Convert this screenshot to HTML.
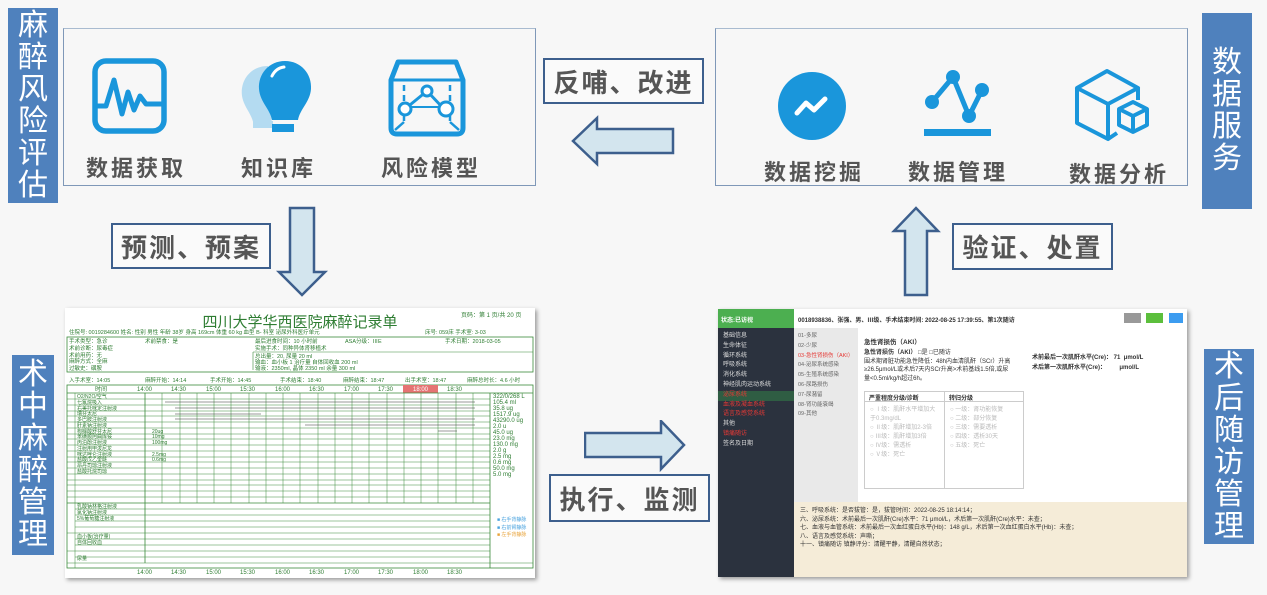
<!DOCTYPE html>
<html><head><meta charset="utf-8"><style>
*{margin:0;padding:0;box-sizing:border-box}
body{width:1267px;height:595px;background:#f7f7f7;position:relative;overflow:hidden;font-family:"Liberation Sans","Noto Sans CJK SC",sans-serif}
.abs{position:absolute}
.vlab{position:absolute;background:#4f81bd;color:#fff;font-size:30px;line-height:32px;text-align:center;display:flex;flex-direction:column;justify-content:center;align-items:center}
.box{position:absolute;border:1px solid #7f98b8;border-top-color:#a9bbd0}
.lbl{position:absolute;border:2.5px solid #3d5f8d;background:#fafafa;color:#555;font-weight:bold;font-size:26px;display:flex;align-items:center;justify-content:center;letter-spacing:2px}
.cap{position:absolute;color:#555;font-weight:bold;font-size:22px;letter-spacing:3px;white-space:nowrap}
</style></head><body>

<div class="vlab" style="left:8px;top:8px;width:50px;height:195px">麻<br>醉<br>风<br>险<br>评<br>估</div>
<div class="vlab" style="left:1202px;top:13px;width:50px;height:196px">数<br>据<br>服<br>务</div>
<div class="vlab" style="left:12px;top:355px;width:42px;height:200px">术<br>中<br>麻<br>醉<br>管<br>理</div>
<div class="vlab" style="left:1204px;top:349px;width:50px;height:195px">术<br>后<br>随<br>访<br>管<br>理</div>

<div class="box" style="left:63px;top:28px;width:473px;height:158px"></div>
<div class="box" style="left:715px;top:28px;width:473px;height:158px"></div>

<div class="cap" style="left:86px;top:151px">数据获取</div>
<div class="cap" style="left:241px;top:151px">知识库</div>
<div class="cap" style="left:381px;top:151px">风险模型</div>
<div class="cap" style="left:764px;top:155px">数据挖掘</div>
<div class="cap" style="left:908px;top:155px">数据管理</div>
<div class="cap" style="left:1069px;top:157px">数据分析</div>

<div class="lbl" style="left:543px;top:58px;width:161px;height:46px">反哺、改进</div>
<div class="lbl" style="left:111px;top:223px;width:160px;height:46px">预测、预案</div>
<div class="lbl" style="left:952px;top:223px;width:161px;height:47px">验证、处置</div>
<div class="lbl" style="left:549px;top:474px;width:161px;height:48px">执行、监测</div>

<svg class="abs" style="left:0;top:0" width="1267" height="300">
 <g fill="#d3e5ee" stroke="#3d5f8d" stroke-width="2.5" stroke-linejoin="miter">
  <polygon points="673,129 597,129 597,118 573,141 597,164 597,153 673,153"/>
  <polygon points="290,208 314,208 314,272 325,272 302,295 279,272 290,272"/>
  <polygon points="905,295 927,295 927,231 938,231 916,208 894,231 905,231"/>
 </g>
 <rect x="95" y="61" width="69" height="70" rx="11" fill="none" stroke="#1a96db" stroke-width="5.5"/>
 <polyline points="97,106 106,106 114,80 122,114 128,92 134,110 140,96 146,104 162,104" fill="none" stroke="#1a96db" stroke-width="5" stroke-linejoin="round"/>
 <path d="M268,66 c-18,0 -28,15 -26,30 c2,12 10,17 12,30 l18,0 z" fill="#b4dbf1"/>
 <rect x="253" y="121" width="20" height="7" fill="#b4dbf1"/>
 <path d="M285,61 c-16,0 -27,13 -26,28 c1,13 11,20 13,31 l26,0 c2,-11 12,-18 13,-31 c1,-15 -10,-28 -26,-28 z" fill="#1a96db"/>
 <rect x="272" y="124" width="22" height="8" fill="#1a96db"/>
 <path d="M272,76 q4,-8 12,-9" stroke="#fff" stroke-width="3" fill="none" stroke-linecap="round"/>
 <path d="M398,62 L456,62 L463,80 L463,128 q0,6 -6,6 L397,134 q-6,0 -6,-6 L391,80 z" fill="none" stroke="#1a96db" stroke-width="5" stroke-linejoin="round"/>
 <line x1="391" y1="80" x2="463" y2="80" stroke="#1a96db" stroke-width="3"/>
 <line x1="404" y1="85" x2="404" y2="122" stroke="#1a96db" stroke-width="2.5" stroke-dasharray="6,4"/>
 <line x1="450" y1="85" x2="450" y2="122" stroke="#1a96db" stroke-width="2.5" stroke-dasharray="6,4"/>
 <line x1="395" y1="130" x2="404" y2="122" stroke="#1a96db" stroke-width="2.5"/>
 <line x1="459" y1="130" x2="450" y2="122" stroke="#1a96db" stroke-width="2.5"/>
 <polyline points="405,109 427,91 444,109" fill="none" stroke="#1a96db" stroke-width="3"/>
 <line x1="410" y1="107" x2="440" y2="107" stroke="#1a96db" stroke-width="2"/>
 <circle cx="427" cy="91" r="5" fill="#fff" stroke="#1a96db" stroke-width="3"/>
 <circle cx="405" cy="109" r="6" fill="#fff" stroke="#1a96db" stroke-width="3"/>
 <circle cx="446" cy="109" r="7" fill="#fff" stroke="#1a96db" stroke-width="3"/>
 <circle cx="812" cy="106" r="34" fill="#1a96db"/>
 <polyline points="797,113 806,103 814,110 825,99" fill="none" stroke="#fff" stroke-width="5" stroke-linecap="round" stroke-linejoin="round"/>
 <polyline points="932,102 953,77 969,116 982,90" fill="none" stroke="#1a96db" stroke-width="5"/>
 <circle cx="932" cy="102" r="7" fill="#1a96db"/><circle cx="953" cy="77" r="7" fill="#1a96db"/>
 <circle cx="969" cy="116" r="7" fill="#1a96db"/><circle cx="982" cy="90" r="7" fill="#1a96db"/>
 <rect x="924" y="129" width="67" height="7" fill="#1a96db"/>
 <g fill="none" stroke="#1a96db" stroke-width="4" stroke-linejoin="round">
  <path d="M1107,71 L1138,88 L1108,104 L1077,88 z"/>
  <path d="M1077,88 L1077,123 L1108,139 L1108,104"/>
  <path d="M1138,88 L1138,100"/>
  <path d="M1108,139 L1117,133"/>
  <path d="M1133,102 L1147,109 L1147,125 L1133,132 L1119,125 L1119,109 z"/>
  <path d="M1119,109 L1133,116 L1147,109 M1133,116 L1133,132"/>
 </g>
</svg>
<svg class="abs" style="left:584px;top:420px" width="102" height="52">
 <polygon points="1,13 77,13 77,1 100,25 77,49 77,37 1,37" fill="#d3e5ee" stroke="#3d5f8d" stroke-width="2.5"/>
</svg>

<div class="abs" style="left:65px;top:308px;width:470px;height:270px;background:#fff;box-shadow:2px 2px 4px #999">
<svg width="470" height="270" style="display:block">
 <g font-family="Liberation Sans,Noto Sans CJK SC,sans-serif">
 <text x="235" y="19" font-size="15" fill="#2e7d32" text-anchor="middle">四川大学华西医院麻醉记录单</text>
 <text x="396" y="9" font-size="6" fill="#2e7d32">页码：第 1 页/共 20 页</text>
 <text x="4" y="26" font-size="5.5" fill="#2e7d32">住院号: 0019284600 姓名: 性别 男性 年龄 38岁 身高 169cm 体重 60 kg 血型 B- 科室 泌尿外科医疗单元</text>
 <text x="360" y="26" font-size="5.5" fill="#2e7d32">床号: 059床 手术室: 3-03</text>
 <rect x="2" y="29" width="466" height="35" fill="none" stroke="#3a8a3a" stroke-width="0.8"/>
 <line x1="188" y1="44" x2="468" y2="44" stroke="#3a8a3a" stroke-width="0.6"/>
 <line x1="188" y1="44" x2="188" y2="62" stroke="#3a8a3a" stroke-width="0.6"/>
 <g font-size="5.5" fill="#2e7d32">
 <text x="4" y="35">手术类型：急诊</text><text x="80" y="35">术前禁食：是</text><text x="190" y="35">最后进食时间：10 小时前</text><text x="280" y="35">ASA分级：ⅢE</text><text x="380" y="35">手术日期：2018-03-05</text>
 <text x="4" y="42">术前诊断：尿毒症</text><text x="190" y="42">实施手术：同种异体肾移植术</text>
 <text x="4" y="49">术前用药：无</text><text x="190" y="50">总出量：20, 尿量 20 ml</text>
 <text x="4" y="55">麻醉方式：全麻</text><text x="190" y="56">输血：血小板 1 治疗量 自体回收血 200 ml</text>
 <text x="4" y="62">过敏史：磺胺</text><text x="190" y="62">输液：2350ml, 晶体 2350 ml 余量 300 ml</text>
 <text x="4" y="74">入手术室：14:05</text><text x="80" y="74">麻醉开始：14:14</text><text x="145" y="74">手术开始：14:45</text><text x="215" y="74">手术结束：18:40</text><text x="278" y="74">麻醉结束：18:47</text><text x="340" y="74">出手术室：18:47</text><text x="402" y="74">麻醉总时长：4.6 小时</text>
 </g>
 <rect x="2" y="77" width="466" height="183" fill="none" stroke="#3a8a3a" stroke-width="0.8"/>
 <rect x="338" y="77" width="35" height="8" fill="#e57373"/>
 <g font-size="6" fill="#2e7d32"><text x="30" y="83">时间</text><text x="72" y="83">14:00</text><text x="106" y="83">14:30</text><text x="141" y="83">15:00</text><text x="175" y="83">15:30</text><text x="210" y="83">16:00</text><text x="244" y="83">16:30</text><text x="279" y="83">17:00</text><text x="313" y="83">17:30</text><text x="348" y="83" fill="#fff">18:00</text><text x="382" y="83">18:30</text></g>
 <line x1="2" y1="85" x2="468" y2="85" stroke="#3a8a3a" stroke-width="0.8"/>
 <g stroke="#3a8a3a" stroke-width="0.5">
  <line x1="2" y1="91" x2="425" y2="91"/><line x1="2" y1="97" x2="425" y2="97"/><line x1="2" y1="103" x2="425" y2="103"/><line x1="2" y1="108" x2="425" y2="108"/><line x1="2" y1="114" x2="425" y2="114"/><line x1="2" y1="120" x2="425" y2="120"/><line x1="2" y1="126" x2="425" y2="126"/><line x1="2" y1="131" x2="425" y2="131"/><line x1="2" y1="137" x2="425" y2="137"/><line x1="2" y1="143" x2="425" y2="143"/><line x1="2" y1="149" x2="425" y2="149"/><line x1="2" y1="154" x2="425" y2="154"/><line x1="2" y1="160" x2="425" y2="160"/><line x1="2" y1="166" x2="425" y2="166"/><line x1="2" y1="172" x2="425" y2="172"/><line x1="2" y1="177" x2="425" y2="177"/><line x1="2" y1="183" x2="425" y2="183"/><line x1="2" y1="189" x2="425" y2="189"/>
  <line x1="2" y1="195" x2="425" y2="195" stroke-width="0.8"/>
  <line x1="10" y1="201" x2="425" y2="201"/><line x1="10" y1="207" x2="425" y2="207"/><line x1="10" y1="213" x2="425" y2="213"/><line x1="10" y1="219" x2="425" y2="219"/><line x1="2" y1="225" x2="425" y2="225"/><line x1="10" y1="231" x2="425" y2="231"/><line x1="10" y1="237" x2="425" y2="237"/><line x1="2" y1="243" x2="425" y2="243"/><line x1="10" y1="249" x2="425" y2="249"/><line x1="2" y1="255" x2="468" y2="255"/>
 </g>
 <g stroke="#3a8a3a" stroke-width="0.5">
  <line x1="80" y1="85" x2="80" y2="255" stroke-width="0.8"/><line x1="425" y1="85" x2="425" y2="260" stroke-width="0.8"/><line x1="10" y1="85" x2="10" y2="260"/>
  <line x1="97" y1="85" x2="97" y2="195"/><line x1="115" y1="85" x2="115" y2="195"/><line x1="132" y1="85" x2="132" y2="195"/><line x1="149" y1="85" x2="149" y2="195"/><line x1="166" y1="85" x2="166" y2="195"/><line x1="184" y1="85" x2="184" y2="195"/><line x1="201" y1="85" x2="201" y2="195"/><line x1="218" y1="85" x2="218" y2="195"/><line x1="235" y1="85" x2="235" y2="195"/><line x1="253" y1="85" x2="253" y2="195"/><line x1="270" y1="85" x2="270" y2="195"/><line x1="287" y1="85" x2="287" y2="195"/><line x1="304" y1="85" x2="304" y2="195"/><line x1="322" y1="85" x2="322" y2="195"/><line x1="339" y1="85" x2="339" y2="195"/><line x1="356" y1="85" x2="356" y2="195"/><line x1="373" y1="85" x2="373" y2="195"/><line x1="391" y1="85" x2="391" y2="195"/><line x1="408" y1="85" x2="408" y2="195"/>
 </g>
 <g stroke="#333" stroke-width="0.5"><line x1="100" y1="94" x2="410" y2="94"/><line x1="110" y1="100" x2="410" y2="100"/><line x1="110" y1="106" x2="196" y2="106"/><line x1="110" y1="111" x2="410" y2="111"/><line x1="240" y1="117" x2="410" y2="117"/><line x1="373" y1="123" x2="392" y2="123"/></g>
 <g font-size="5" fill="#2e7d32">
  <text x="12" y="90">O2/N2O/空气</text><text x="12" y="96">七氟烷吸入</text><text x="12" y="102">右美托咪定注射液</text><text x="12" y="107">瑞芬太尼</text><text x="12" y="113">多巴胺注射液</text><text x="12" y="119">肝素钠注射液</text><text x="12" y="125">枸橼酸舒芬太尼</text><text x="12" y="130">苯磺顺阿曲库铵</text><text x="12" y="136">丙泊酚注射液</text><text x="12" y="142">注射用甲泼尼龙</text><text x="12" y="148">咪达唑仑注射液</text><text x="12" y="153">盐酸戊乙奎醚</text><text x="12" y="159">昂丹司琼注射液</text><text x="12" y="165">盐酸托烷司琼</text>
  <text x="12" y="200">乳酸钠林格注射液</text><text x="12" y="206">氯化钠注射液</text><text x="12" y="212">5%葡萄糖注射液</text><text x="12" y="230">血小板(治疗量)</text><text x="12" y="236">自体回收血</text><text x="12" y="252">尿量</text>
  <text x="87" y="125">20ug</text><text x="87" y="130">10mg</text><text x="87" y="136">100mg</text><text x="87" y="148">2.5mg</text><text x="87" y="153">0.6mg</text>
  <text x="428" y="90" font-size="6">322/0/268 L</text><text x="428" y="96" font-size="6">105.4 ml</text><text x="428" y="102" font-size="6">35.8 ug</text><text x="428" y="108" font-size="6">1517.9 ug</text><text x="428" y="114" font-size="6">43290.0 ug</text><text x="428" y="120" font-size="6">2.0 u</text><text x="428" y="126" font-size="6">45.0 ug</text><text x="428" y="132" font-size="6">23.0 mg</text><text x="428" y="138" font-size="6">130.0 mg</text><text x="428" y="144" font-size="6">2.0 g</text><text x="428" y="150" font-size="6">2.5 mg</text><text x="428" y="156" font-size="6">0.6 mg</text><text x="428" y="162" font-size="6">50.0 mg</text><text x="428" y="168" font-size="6">5.0 mg</text>
  <text x="432" y="213" fill="#4aa3df">■ 右手背静脉</text><text x="432" y="221" fill="#4aa3df">■ 右前臂静脉</text><text x="432" y="228" fill="#e8a33a">■ 左手背静脉</text>
  <text x="72" y="266" font-size="6">14:00</text><text x="106" y="266" font-size="6">14:30</text><text x="141" y="266" font-size="6">15:00</text><text x="175" y="266" font-size="6">15:30</text><text x="210" y="266" font-size="6">16:00</text><text x="244" y="266" font-size="6">16:30</text><text x="279" y="266" font-size="6">17:00</text><text x="313" y="266" font-size="6">17:30</text><text x="348" y="266" font-size="6">18:00</text><text x="382" y="266" font-size="6">18:30</text>
 </g>
 </g>
</svg>
</div>

<div class="abs" style="left:718px;top:309px;width:469px;height:268px;background:#fff;box-shadow:2px 2px 4px #999;overflow:hidden;font-size:6px;color:#333">
 <div class="abs" style="left:0;top:0;width:76px;height:19px;background:#4caf50;color:#fff;font-weight:bold;padding:6px 3px">状态:已访视</div>
 <div class="abs" style="left:0;top:19px;width:76px;height:249px;background:#2b323e;color:#ddd;line-height:9.8px;padding:4px 5px;white-space:nowrap">基础信息<br>生命体征<br>循环系统<br>呼吸系统<br>消化系统<br>神经肌肉运动系统<br><span style="color:#e53935;background:#2f5d43;display:block;margin:0 -5px;padding-left:5px">泌尿系统</span><span style="color:#e53935">血液及凝血系统</span><br><span style="color:#e53935">语言及感觉系统</span><br>其他<br><span style="color:#e53935">镇痛随访</span><br>签名及日期</div>
 <div class="abs" style="left:80px;top:6px;font-weight:bold;white-space:nowrap">0018938836、张强、男、Ⅲ级、手术结束时间: 2022-08-25 17:39:55、第1次随访</div>
 <div class="abs" style="left:406px;top:4px;width:17px;height:10px;background:#999"></div>
 <div class="abs" style="left:428px;top:4px;width:17px;height:10px;background:#5cbf3c"></div>
 <div class="abs" style="left:451px;top:4px;width:14px;height:10px;background:#3c9cf0"></div>
 <div class="abs" style="left:76px;top:19px;width:64px;height:174px;background:#e9e9e9;line-height:9.8px;padding:4px 4px;color:#666;white-space:nowrap;font-size:5.5px">01-多尿<br>02-少尿<br><span style="color:#e53935">03-急性肾损伤（AKI）</span><br>04-泌尿系统感染<br>05-生殖系统感染<br>06-尿路损伤<br>07-尿潴留<br>08-肾功能衰竭<br>09-其他</div>
 <div class="abs" style="left:146px;top:27px;font-weight:bold;font-size:6.5px">急性肾损伤（AKI）</div>
 <div class="abs" style="left:146px;top:40px;width:150px;line-height:8.5px"><b>急性肾损伤（AKI）</b> □是 □已随访<br>围术期肾脏功能急性降低：48h内血清肌酐（SCr）升高≥26.5μmol/L或术后7天内SCr升高&gt;术前基线1.5倍,或尿量&lt;0.5ml/kg/h超过6h。</div>
 <div class="abs" style="left:314px;top:44px;font-weight:bold;line-height:10px;white-space:nowrap">术前最后一次肌酐水平(Cre)： 71 &nbsp;μmol/L<br>术后第一次肌酐水平(Cre)：&nbsp;&nbsp;&nbsp;&nbsp;&nbsp;&nbsp;&nbsp;&nbsp;μmol/L</div>
 <div class="abs" style="left:146px;top:82px;width:160px;height:98px;border:1px solid #ccc"></div>
 <div class="abs" style="left:226px;top:82px;width:1px;height:98px;background:#ccc"></div>
 <div class="abs" style="left:146px;top:92px;width:160px;height:1px;background:#ccc"></div>
 <div class="abs" style="left:151px;top:84px;font-weight:bold">严重程度分级/诊断</div>
 <div class="abs" style="left:231px;top:84px;font-weight:bold">转归分级</div>
 <div class="abs" style="left:152px;top:97px;color:#bbb;line-height:9px;width:70px">○ Ⅰ级：肌酐水平增加大于0.3mg/dL<br>○ Ⅱ级：肌酐增加2-3倍<br>○ Ⅲ级：肌酐增加3倍<br>○ Ⅳ级：需透析<br>○ Ⅴ级：死亡</div>
 <div class="abs" style="left:232px;top:97px;color:#bbb;line-height:9px;width:70px">○ 一级：肾功能恢复<br>○ 二级：部分恢复<br>○ 三级：需要透析<br>○ 四级：透析30天<br>○ 五级：死亡</div>
 <div class="abs" style="left:76px;top:193px;width:393px;height:75px;background:#f5ecd8;line-height:8.5px;padding:5px 6px">三、呼吸系统：是否拔管：是，拔管时间：2022-08-25 18:14:14；<br>六、泌尿系统：术前最后一次肌酐(Cre)水平：71 μmol/L，术后第一次肌酐(Cre)水平：未查；<br>七、血液与血管系统：术前最后一次血红蛋白水平(Hb)：148 g/L，术后第一次血红蛋白水平(Hb)：未查；<br>八、语言及感觉系统：声嘶；<br>十一、镇痛随访 镇静评分：清醒平静，清醒自然状态；</div>
</div>
</body></html>
